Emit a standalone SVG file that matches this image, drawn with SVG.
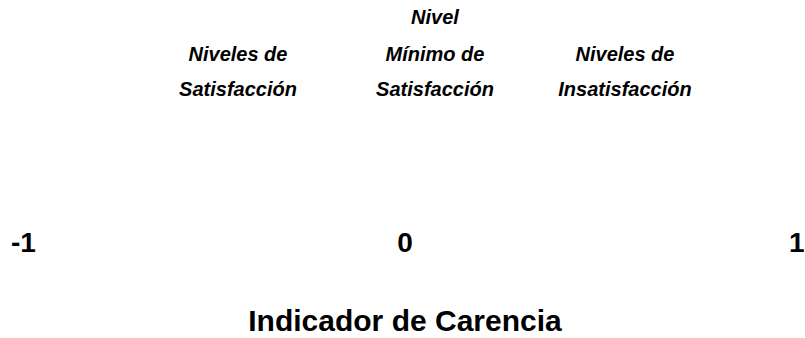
<svg xmlns="http://www.w3.org/2000/svg" width="805" height="338" viewBox="0 0 805 338">
<style>
.lbl{font-family:"Liberation Sans",Arial,sans-serif;font-size:20px;font-weight:bold;font-style:italic;fill:#000;text-anchor:middle}
.num{font-family:"Liberation Sans",Arial,sans-serif;font-size:28px;font-weight:bold;fill:#000}
.ttl{font-family:"Liberation Sans",Arial,sans-serif;font-size:30px;font-weight:bold;fill:#000;text-anchor:middle}
</style>
<rect width="805" height="338" fill="#fff"/>
<g id="satisfaccion">
<text class="lbl" x="238" y="61">Niveles de</text>
<text class="lbl" x="238" y="96">Satisfacción</text>
</g>
<g id="minimo">
<text class="lbl" x="435" y="24">Nivel</text>
<text class="lbl" x="435" y="61">Mínimo de</text>
<text class="lbl" x="435" y="96">Satisfacción</text>
</g>
<g id="insatisfaccion">
<text class="lbl" x="625" y="61">Niveles de</text>
<text class="lbl" x="625" y="96">Insatisfacción</text>
</g>
<g id="escala">
<text class="num" x="11" y="252">-1</text>
<text class="num" x="405" y="252" text-anchor="middle">0</text>
<text class="num" x="789" y="252">1</text>
</g>
<g id="titulo">
<text class="ttl" x="405" y="331">Indicador de Carencia</text>
</g>
<g id="connectors"/>
</svg>
